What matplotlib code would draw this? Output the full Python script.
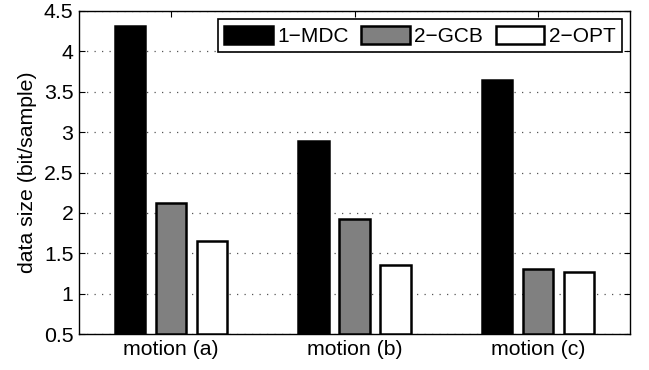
import matplotlib
matplotlib.use("Agg")
import matplotlib.pyplot as plt
import numpy as np

categories = ["motion (a)", "motion (b)", "motion (c)"]
series_names = ["1\u2212MDC", "2\u2212GCB", "2\u2212OPT"]
mdc = [4.32, 2.89, 3.64]
gcb = [2.12, 1.92, 1.30]
opt = [1.65, 1.35, 1.27]
yticks = [0.5, 1, 1.5, 2, 2.5, 3, 3.5, 4, 4.5]
ytick_labels = ["0.5", "1", "1.5", "2", "2.5", "3", "3.5", "4", "4.5"]

plt.rcParams['font.family'] = ['Liberation Sans', 'DejaVu Sans']
FS = 15.3

fig = plt.figure(figsize=(6.49, 3.70), dpi=100)
ax = fig.add_axes([79/649, 1 - 334/370, (630-79)/649, (334-11)/370])

x = np.arange(1, len(categories) + 1)
off = 0.223
w = 0.165
colors = ["black", "#808080", "white"]
for i, (vals, name, c) in enumerate(zip([mdc, gcb, opt], series_names, colors)):
    ax.bar(x + (i - 1) * off, [v - 0.5 for v in vals], bottom=0.5, width=w,
           color=c, edgecolor="black", linewidth=1.8, label=name, zorder=3)

ax.set_xlim(0.5, 3.5)
ax.set_ylim(0.5, 4.5)
ax.set_xticks(x)
ax.set_xticklabels(categories, fontsize=FS)
ax.set_yticks(yticks)
ax.set_yticklabels(ytick_labels, fontsize=FS)
ax.set_ylabel("data size (bit/sample)", fontsize=FS, labelpad=5)
ax.tick_params(direction="in", top=True, right=True, length=4, width=0.8, pad=4)
ax.yaxis.grid(True, linestyle=(0, (1, 5)), color="#555555", linewidth=0.9, zorder=0)
ax.set_axisbelow(True)
for s in ax.spines.values():
    s.set_linewidth(1.0)

leg = ax.legend(loc="upper right", ncol=3, fontsize=15, frameon=True, fancybox=False,
                edgecolor="black", framealpha=1, handlelength=2.35, handleheight=1.0,
                handletextpad=0.2, columnspacing=0.6, borderpad=0.3, borderaxespad=0.4)
leg.get_frame().set_linewidth(1.2)

fig.savefig("out.png", dpi=100)
